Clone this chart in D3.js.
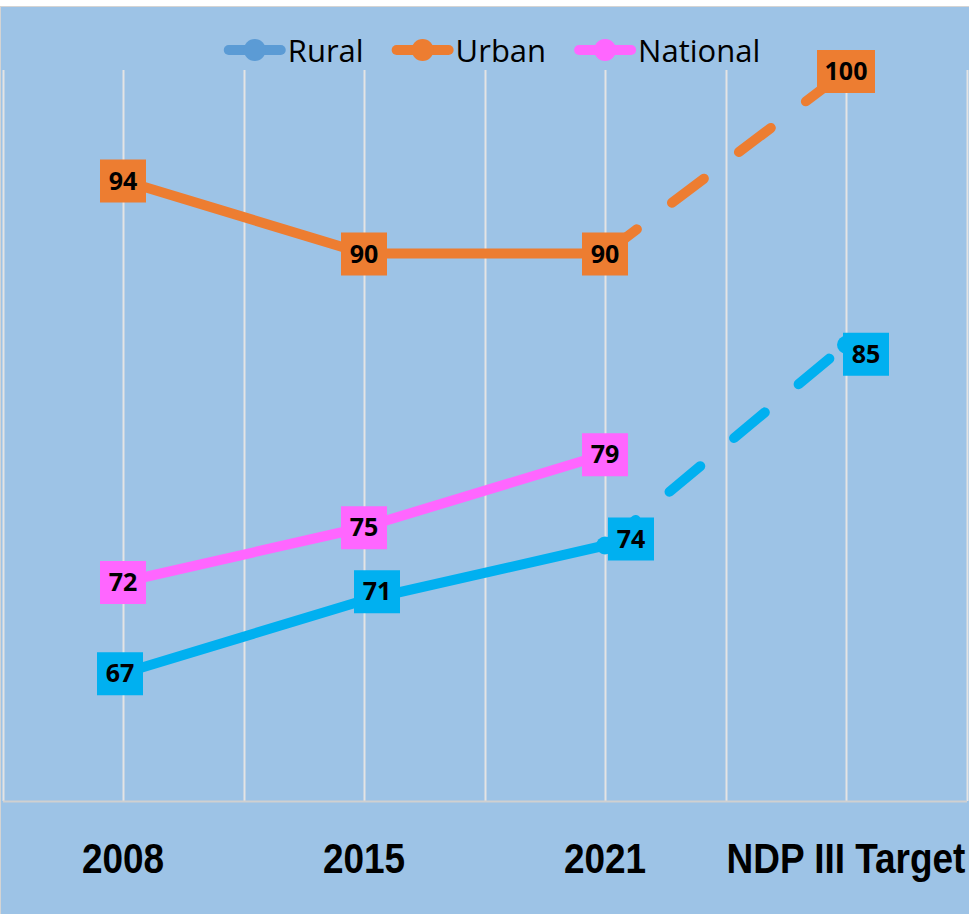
<!DOCTYPE html>
<html>
<head>
<meta charset="utf-8">
<script src="https://cdn.jsdelivr.net/npm/d3@7"></script>
<style>
  body { margin: 0; background: #fff; }
</style>
</head>
<body>
<div id="chart"></div>
<script>
var categories = ["2008", "2015", "2021", "NDP III Target"];
var rural = [67, 71, 74, 85];
var urban = [94, 90, 90, 100];
var national = [72, 75, 79, null];
var seriesNames = ["Rural", "Urban", "National"];

var width = 969;
var height = 914;

var series = [
    {name: seriesNames[0], values: rural, color: "#00B0F0", legendColor: "#5B9BD5"},
    {name: seriesNames[1], values: urban, color: "#ED7D31", legendColor: "#ED7D31"},
    {name: seriesNames[2], values: national, color: "#FF66FF", legendColor: "#FF66FF"}
];

// rural labels are nudged off their points in the original
var labelShift = {
    "Rural": [[-3, 0], [13, -9], [26, -7], [20, 9]]
};

var svg = d3.select("#chart")
    .append("svg")
    .attr("width", width)
    .attr("height", height);

svg.append("rect")
    .attr("x", 0.5).attr("y", 6.5)
    .attr("width", width + 10).attr("height", height + 10)
    .attr("fill", "#9DC3E6")
    .attr("stroke", "#D4D4D4");

var plotTop = 70, plotBottom = 801;

var xScale = d3.scaleBand()
    .domain(categories)
    .range([2.5, 966.5]);

var yScale = d3.scaleLinear()
    .domain([60, 100])
    .range([plotBottom, 71]);

function cx(c) { return xScale(c) + xScale.bandwidth() / 2; }

// vertical gridlines: band edges and band centres
var gridX = [];
categories.forEach(function (c) {
    gridX.push(xScale(c));
    gridX.push(cx(c));
});
gridX.push(xScale.range()[1]);

svg.append("g").selectAll("line").data(gridX)
    .enter().append("line")
    .attr("x1", function (d) { return Math.round(d) + 0.5; })
    .attr("x2", function (d) { return Math.round(d) + 0.5; })
    .attr("y1", plotTop).attr("y2", plotBottom)
    .attr("stroke", "#E4E4E4")
    .attr("stroke-width", 2);

var xAxis = d3.axisBottom(xScale).tickSize(0).tickPadding(0);
var gx = svg.append("g")
    .attr("transform", "translate(0," + plotBottom + ")")
    .call(xAxis);
gx.select(".domain").attr("stroke", "#D0D0D0").attr("stroke-width", 2);
// narrow bold labels (condensed by a horizontal scale)
gx.selectAll("text")
    .attr("dy", null)
    .attr("y", 0)
    .attr("transform", "translate(0,72) scale(0.88,1)")
    .attr("font-family", "'Liberation Sans', Arial, sans-serif")
    .attr("font-weight", "bold")
    .attr("font-size", 42)
    .attr("fill", "#000");

// lines: solid through 2021, dashed towards the target
var line = d3.line()
    .defined(function (d) { return d.v != null; })
    .x(function (d) { return cx(d.c); })
    .y(function (d) { return yScale(d.v); });

series.forEach(function (s) {
    var pts = s.values.map(function (v, i) { return {c: categories[i], v: v}; });
    svg.append("path")
        .datum(pts.slice(0, 3))
        .attr("d", line)
        .attr("fill", "none")
        .attr("stroke", s.color)
        .attr("stroke-width", 10)
        .attr("stroke-linejoin", "round");
    if (pts[3].v != null) {
        svg.append("path")
            .datum(pts.slice(2, 4))
            .attr("d", line)
            .attr("fill", "none")
            .attr("stroke", s.color)
            .attr("stroke-width", 10)
            .attr("stroke-linecap", "round")
            .attr("stroke-dasharray", "40,44");
    }
});

// markers then labels
series.forEach(function (s) {
    var pts = s.values.map(function (v, i) { return {c: categories[i], v: v, i: i}; })
        .filter(function (d) { return d.v != null; });
    svg.append("g").selectAll("circle").data(pts)
        .enter().append("circle")
        .attr("cx", function (d) { return cx(d.c); })
        .attr("cy", function (d) { return yScale(d.v); })
        .attr("r", 9)
        .attr("fill", s.color);
});

series.forEach(function (s) {
    var pts = s.values.map(function (v, i) { return {c: categories[i], v: v, i: i}; })
        .filter(function (d) { return d.v != null; });
    var g = svg.append("g").selectAll("g").data(pts)
        .enter().append("g")
        .attr("transform", function (d) {
            var sh = labelShift[s.name] ? labelShift[s.name][d.i] : [0, 0];
            return "translate(" + (cx(d.c) + sh[0]) + "," + (yScale(d.v) + sh[1]) + ")";
        });
    g.append("rect")
        .attr("x", function (d) { return String(d.v).length > 2 ? -29 : -23; })
        .attr("width", function (d) { return String(d.v).length > 2 ? 58 : 46; })
        .attr("y", -21).attr("height", 43)
        .attr("fill", s.color);
    g.append("text")
        .attr("text-anchor", "middle")
        .attr("y", 9)
        .attr("font-family", "'Open Sans', sans-serif")
        .attr("font-weight", "bold")
        .attr("font-size", 25)
        .attr("fill", "#000")
        .text(function (d) { return d.v; });
});

// legend
var legend = svg.append("g");
var lx = 0;
series.forEach(function (s) {
    var item = legend.append("g").attr("transform", "translate(" + lx + ",0)");
    item.append("line")
        .attr("x1", 5).attr("x2", 57)
        .attr("y1", 50).attr("y2", 50)
        .attr("stroke", s.legendColor)
        .attr("stroke-width", 10)
        .attr("stroke-linecap", "round");
    item.append("circle")
        .attr("cx", 31).attr("cy", 50).attr("r", 11)
        .attr("fill", s.legendColor);
    var t = item.append("text")
        .attr("x", 64).attr("y", 62)
        .attr("font-family", "'Open Sans', sans-serif")
        .attr("font-size", 31)
        .attr("fill", "#000")
        .text(s.name);
    lx += 64 + t.node().getComputedTextLength() + 28;
});
var lw = lx - 28;
legend.attr("transform", "translate(" + (492 - lw / 2) + ",0)");
</script>
</body>
</html>
